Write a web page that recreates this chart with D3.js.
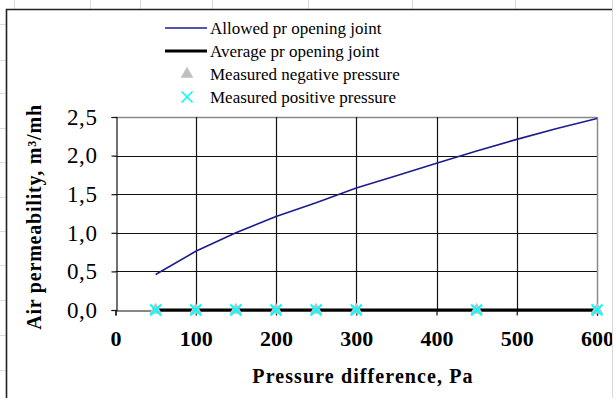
<!DOCTYPE html>
<html>
<head>
<meta charset="utf-8">
<script src="https://cdn.jsdelivr.net/npm/d3@7"></script>
<style>
  body { margin: 0; background: #fff; }
  svg { display: block; font-family: "Liberation Serif", "Times New Roman", serif; }
</style>
</head>
<body>
<svg id="chart" width="616" height="398"></svg>
<script>
// data
var allowedDp = [50, 100, 150, 200, 250, 300, 350, 400, 450, 500, 550, 600];
var allowedQ = [0.46, 0.76, 1.0, 1.21, 1.39, 1.58, 1.74, 1.90, 2.06, 2.21, 2.35, 2.48];
var measuredDp = [50, 100, 150, 200, 250, 300, 450, 600];
var averageQ = [0, 0, 0, 0, 0, 0, 0, 0];
var negativeQ = [0, 0, 0, 0, 0, 0, 0, 0];
var positiveQ = [0, 0, 0, 0, 0, 0, 0, 0];
var xTicks = [0, 100, 200, 300, 400, 500, 600];
var yTicks = [0, 0.5, 1.0, 1.5, 2.0, 2.5];
var legendLabels = ["Allowed pr opening joint", "Average pr opening joint",
  "Measured negative pressure", "Measured positive pressure"];

var svg = d3.select("#chart");

// spreadsheet cells behind the chart object
var sheet = svg.append("g").attr("stroke", "#dcdcdc").attr("stroke-width", 1);
[14, 90, 140, 212, 308, 412, 515].forEach(function(x) {
  sheet.append("line").attr("x1", x + 0.5).attr("x2", x + 0.5).attr("y1", 0).attr("y2", 9);
});
[24, 60, 93, 128, 162, 197, 231, 265, 300, 335, 370].forEach(function(y) {
  sheet.append("line").attr("x1", 0).attr("x2", 6).attr("y1", y + 0.5).attr("y2", y + 0.5);
});

svg.append("clipPath").attr("id", "objclip")
  .append("rect").attr("x", 0).attr("y", 0).attr("width", 612).attr("height", 398);

var chart = svg.append("g").attr("clip-path", "url(#objclip)");

// chart frame
chart.append("path").attr("d", "M6.5,398V9.5H612")
  .attr("fill", "none").attr("stroke", "#222").attr("stroke-width", 1.6);

var x = d3.scaleLinear().domain([0, 600]).range([115.5, 597]);
var y = d3.scaleLinear().domain([0, 2.5]).range([310, 117]);

// gridlines
var grid = chart.append("g");
grid.selectAll(".hg").data(yTicks.slice(1)).enter().append("line")
  .attr("x1", x(0)).attr("x2", x(600))
  .attr("y1", function(d) { return Math.round(y(d)) + 0.5; })
  .attr("y2", function(d) { return Math.round(y(d)) + 0.5; })
  .attr("stroke", function(d) { return d === 2.5 ? "#8a8a8a" : "#111"; })
  .attr("stroke-width", function(d) { return d === 2.5 ? 1.5 : 1.2; });
grid.selectAll(".vg").data(xTicks.slice(1)).enter().append("line")
  .attr("y1", y(0)).attr("y2", y(2.5))
  .attr("x1", function(d) { return Math.round(x(d)) + 0.5; })
  .attr("x2", function(d) { return Math.round(x(d)) + 0.5; })
  .attr("stroke", function(d) { return d === 600 ? "#8a8a8a" : "#111"; })
  .attr("stroke-width", function(d) { return d === 600 ? 1.5 : 1.2; });

// axes
var yAxis = chart.append("g")
  .attr("transform", "translate(" + (Math.round(x(0)) + 0.5) + ",0)")
  .call(d3.axisLeft(y).tickValues(yTicks).tickSize(5).tickPadding(14)
    .tickFormat(function(d) { return d3.format(".1f")(d).replace(".", ","); }));
yAxis.select(".domain").attr("stroke", "#111").attr("stroke-width", 1.2);
yAxis.selectAll(".tick line").attr("stroke", "#111").attr("stroke-width", 1.2);
yAxis.selectAll(".tick text").attr("font-family", "Liberation Serif")
  .attr("font-size", 23).attr("fill", "#000").attr("letter-spacing", 0.6);

var xAxis = chart.append("g")
  .attr("transform", "translate(0," + (Math.round(y(0)) + 0.5) + ")")
  .call(d3.axisBottom(x).tickValues(xTicks).tickSize(5).tickPadding(15));
xAxis.select(".domain").attr("stroke", "#111").attr("stroke-width", 1.2);
xAxis.selectAll(".tick line").attr("stroke", "#111").attr("stroke-width", 1.2);
xAxis.selectAll(".tick text").attr("font-family", "Liberation Serif")
  .attr("font-size", 22).attr("font-weight", "bold").attr("fill", "#000");

// series
var line = d3.line()
  .x(function(d) { return x(d[0]); })
  .y(function(d) { return y(d[1]); });

chart.append("path")
  .datum(d3.zip(allowedDp, allowedQ))
  .attr("d", line)
  .attr("fill", "none").attr("stroke", "#1c1c8f").attr("stroke-width", 1.6);

chart.append("path")
  .datum(d3.zip(measuredDp, averageQ))
  .attr("d", line)
  .attr("fill", "none").attr("stroke", "#000").attr("stroke-width", 3.2);

var tri = d3.symbol().type(d3.symbolTriangle).size(70);
chart.selectAll(".neg").data(d3.zip(measuredDp, negativeQ)).enter().append("path")
  .attr("d", tri)
  .attr("transform", function(d) { return "translate(" + x(d[0]) + "," + y(d[1]) + ")"; })
  .attr("fill", "#c0c0c0");

var cross = d3.symbol().type(d3.symbolX).size(80);
chart.selectAll(".pos").data(d3.zip(measuredDp, positiveQ)).enter().append("path")
  .attr("d", cross)
  .attr("transform", function(d) { return "translate(" + x(d[0]) + "," + y(d[1]) + ")"; })
  .attr("fill", "none").attr("stroke", "#00ffff").attr("stroke-width", 2);

// axis titles
chart.append("text")
  .attr("x", 363).attr("y", 383)
  .attr("text-anchor", "middle")
  .attr("font-size", 20).attr("font-weight", "bold").attr("letter-spacing", 1.1)
  .text("Pressure difference, Pa");

chart.append("text")
  .attr("transform", "translate(41,217) rotate(-90)")
  .attr("text-anchor", "middle")
  .attr("font-size", 20).attr("font-weight", "bold").attr("letter-spacing", 0.8)
  .text("Air permeability, m³/mh");

// legend
var legend = chart.append("g");
var rowY = [28, 51, 74, 97];
legendLabels.forEach(function(label, i) {
  legend.append("text")
    .attr("x", 210).attr("y", rowY[i] + 6)
    .attr("font-size", 17)
    .text(label);
});
legend.append("line").attr("x1", 165).attr("x2", 207).attr("y1", rowY[0]).attr("y2", rowY[0])
  .attr("stroke", "#1c1c8f").attr("stroke-width", 1.6);
legend.append("line").attr("x1", 165).attr("x2", 207).attr("y1", rowY[1]).attr("y2", rowY[1])
  .attr("stroke", "#000").attr("stroke-width", 3.2);
legend.append("path").attr("d", tri)
  .attr("transform", "translate(187," + rowY[2] + ")").attr("fill", "#c0c0c0");
legend.append("path").attr("d", cross)
  .attr("transform", "translate(187," + rowY[3] + ")")
  .attr("fill", "none").attr("stroke", "#00ffff").attr("stroke-width", 1.6);

svg.append("line").attr("x1", 612.5).attr("x2", 612.5).attr("y1", 0).attr("y2", 398)
  .attr("stroke", "#d8d8d8");
</script>
</body>
</html>
